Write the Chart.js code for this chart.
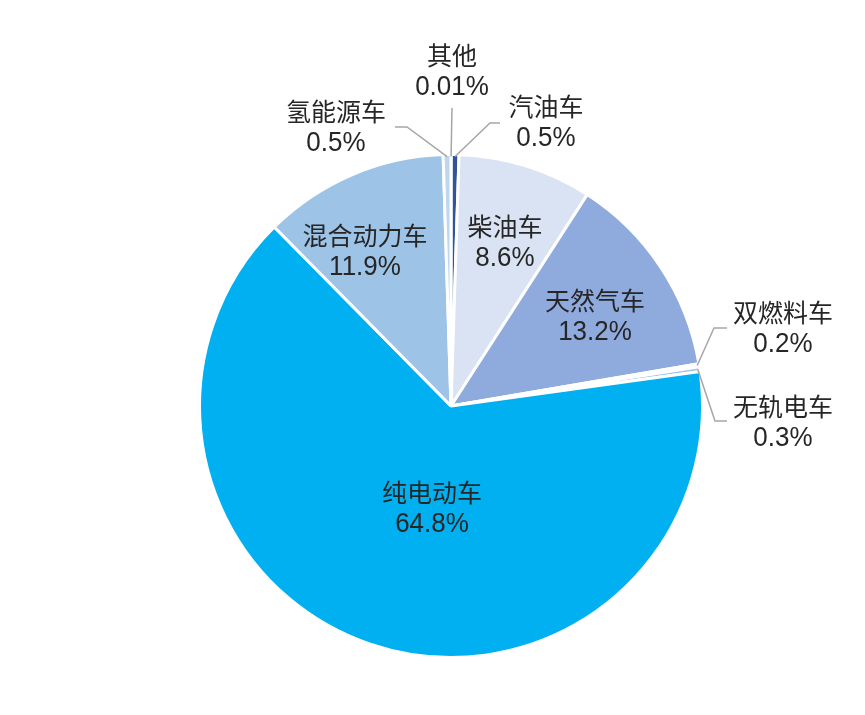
<!DOCTYPE html>
<html>
<head>
<meta charset="utf-8">
<script src="https://cdn.jsdelivr.net/npm/chart.js@4.4.1/dist/chart.umd.min.js"></script>
<style>
  html, body { margin: 0; padding: 0; background: #fff; }
  #wrap { width: 865px; height: 715px; position: relative; }
</style>
</head>
<body>
<div id="wrap"><canvas id="fuelChart"></canvas></div>
<script>
// share of vehicles by fuel type, clockwise from 12 o'clock
const categories = ["其他", "汽油车", "柴油车", "天然气车", "双燃料车", "无轨电车", "纯电动车", "混合动力车", "氢能源车"];
const shares = [0.01, 0.5, 8.6, 13.2, 0.2, 0.3, 64.8, 11.9, 0.5];
const sliceColors = ["#1F3864", "#2F5597", "#DAE3F3", "#8FAADC", "#B4C7E7", "#9DC3E6", "#00B0F0", "#9DC3E6", "#BDD7EE"];

// label block centre, offset from pie centre (px); leader = points after the arc anchor
const labelLayout = [
  { dx: 1,    dy: -335, leader: [[1, -298]] },
  { dx: 95,   dy: -284, leader: [[39, -283], [49, -283]] },
  { dx: 54,   dy: -164 },
  { dx: 144,  dy: -90 },
  { dx: 332,  dy: -78,  leader: [[263, -78], [276, -78]] },
  { dx: 332,  dy: 16,   leader: [[264, 15], [276, 15]] },
  { dx: -19,  dy: 102 },
  { dx: -86,  dy: -155 },
  { dx: -115, dy: -279, leader: [[-44, -279], [-56, -279]] },
];

const nameFont = '25px "Noto Sans CJK SC", "Liberation Sans", sans-serif';
const valueFont = '26px "Liberation Sans", "Noto Sans CJK SC", sans-serif';

const pieLabels = {
  id: "pieLabels",
  afterDatasetsDraw(chart) {
    const ctx = chart.ctx;
    const meta = chart.getDatasetMeta(0);
    ctx.save();
    meta.data.forEach((arc, i) => {
      const { x, y, startAngle, endAngle, outerRadius } = arc.getProps(["x", "y", "startAngle", "endAngle", "outerRadius"], true);
      const lay = labelLayout[i];
      // leader line
      if (lay.leader) {
        const mid = (startAngle + endAngle) / 2;
        ctx.beginPath();
        ctx.moveTo(x + (outerRadius - 2) * Math.cos(mid), y + (outerRadius - 2) * Math.sin(mid));
        lay.leader.forEach(p => ctx.lineTo(x + p[0], y + p[1]));
        ctx.strokeStyle = "#A6A6A6";
        ctx.lineWidth = 1.5;
        ctx.stroke();
      }
      // two-line label
      ctx.fillStyle = "#262626";
      ctx.textAlign = "center";
      ctx.textBaseline = "middle";
      ctx.font = nameFont;
      ctx.fillText(categories[i], x + lay.dx, y + lay.dy - 16);
      // the percentages are a touch taller than plain Arial
      ctx.save();
      ctx.translate(x + lay.dx, y + lay.dy + 16);
      ctx.scale(1, 1.05);
      ctx.font = valueFont;
      ctx.fillText(shares[i] + "%", 0, 0);
      ctx.restore();
    });
    ctx.restore();
  }
};

new Chart(document.getElementById("fuelChart"), {
  type: "pie",
  data: {
    labels: categories,
    datasets: [{
      data: shares,
      backgroundColor: sliceColors,
      borderColor: "#ffffff",
      borderWidth: 3,
    }],
  },
  options: {
    responsive: true,
    maintainAspectRatio: false,
    animation: false,
    layout: { padding: { top: 153, bottom: 56, left: 198, right: 161 } },
    plugins: {
      legend: { display: false },
      tooltip: { enabled: false },
    },
  },
  plugins: [pieLabels],
});
</script>
</body>
</html>
